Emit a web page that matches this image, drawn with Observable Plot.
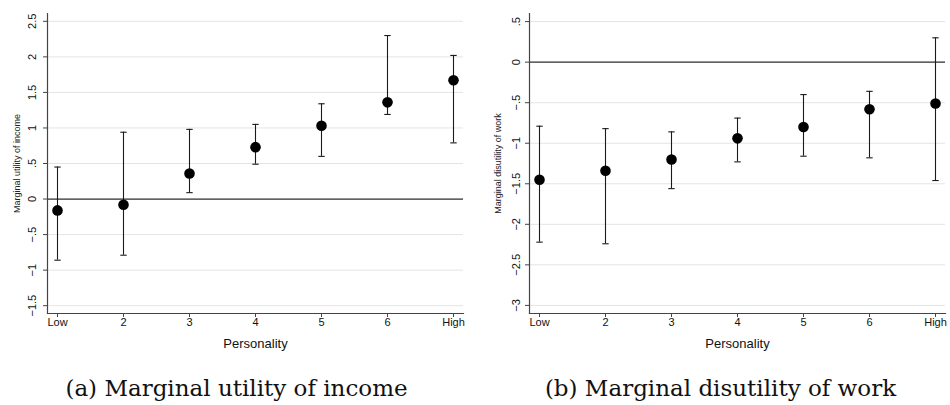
<!DOCTYPE html>
<html><head><meta charset="utf-8">
<script src="https://cdn.jsdelivr.net/npm/d3@7"></script>
<script src="https://cdn.jsdelivr.net/npm/@observablehq/plot@0.6"></script>
<style>
body{margin:0;background:#fff;width:950px;height:405px;position:relative;overflow:hidden}
.panel{position:absolute;top:0;width:475px;height:405px}
.cap{position:absolute;top:374px;left:0;width:100%;text-align:center;font-family:"DejaVu Serif",serif;font-size:23px;line-height:28px;color:#111;white-space:nowrap}
</style></head><body>
<div id="a" class="panel" style="left:0"></div>
<div id="b" class="panel" style="left:475px"></div>
<script>
const categories = ["Low", "2", "3", "4", "5", "6", "High"];
const incomeEst = [-0.16, -0.08, 0.36, 0.73, 1.03, 1.36, 1.67];
const incomeLo  = [-0.86, -0.79, 0.09, 0.49, 0.60, 1.19, 0.79];
const incomeHi  = [0.45, 0.94, 0.98, 1.05, 1.34, 2.30, 2.02];
const workEst = [-1.45, -1.34, -1.20, -0.94, -0.80, -0.58, -0.51];
const workLo  = [-2.22, -2.24, -1.56, -1.23, -1.16, -1.18, -1.46];
const workHi  = [-0.79, -0.82, -0.86, -0.69, -0.40, -0.36, 0.30];
const incomeTicks = [-1.5, -1, -0.5, 0, 0.5, 1, 1.5, 2, 2.5];
const workTicks = [-3, -2.5, -2, -1.5, -1, -0.5, 0, 0.5];
const incomeYLabel = "Marginal utility of income";
const workYLabel = "Marginal disutility of work";
const xLabel = "Personality";
const captionA = "(a) Marginal utility of income";
const captionB = "(b) Marginal disutility of work";

const fmt = v => v === 0 ? "0" : (v < 0 ? "\u2212" : "") + String(Math.abs(v)).replace(/^0\./, ".");
const capSymbol = {draw(ctx, size) { const r = Math.sqrt(size / Math.PI); ctx.moveTo(-r, 0); ctx.lineTo(r, 0); }};

function panel({est, lo, hi, yDomain, yTicks, yLabel, marginLeft, marginRight, tickDx, titleDx}) {
  const rows = categories.map((c, i) => ({c, est: est[i], lo: lo[i], hi: hi[i]}));
  const axisColor = "#444";
  return Plot.plot({
    width: 475, height: 352,
    marginLeft, marginRight, marginTop: 13, marginBottom: 39,
    style: {background: "#fff", fontFamily: "'Liberation Sans', Arial, sans-serif", color: "#000"},
    x: {type: "point", domain: categories, padding: 0.12, label: null},
    y: {domain: yDomain, label: null},
    marks: [
      Plot.ruleY(yTicks, {stroke: "#e4e4e4", strokeWidth: 1}),
      Plot.ruleY([0], {stroke: "#333", strokeWidth: 1.2}),
      Plot.ruleX(rows, {x: "c", y1: "lo", y2: "hi", stroke: "#1a1a1a", strokeWidth: 1.1}),
      Plot.dot(rows, {x: "c", y: "lo", symbol: capSymbol, r: 3.2, stroke: "#1a1a1a", strokeWidth: 1.1, fill: "none"}),
      Plot.dot(rows, {x: "c", y: "hi", symbol: capSymbol, r: 3.2, stroke: "#1a1a1a", strokeWidth: 1.1, fill: "none"}),
      Plot.dot(rows, {x: "c", y: "est", r: 5.3, fill: "#000", stroke: "none"}),
      Plot.frame({anchor: "left", stroke: axisColor, strokeWidth: 1.2}),
      Plot.frame({anchor: "bottom", stroke: axisColor, strokeWidth: 1.2}),
      Plot.axisY({ticks: yTicks, tickSize: 4, tickFormat: () => "", stroke: axisColor, label: null}),
      Plot.text(yTicks, {y: d => d, text: fmt, frameAnchor: "left", dx: -tickDx, rotate: -90, textAnchor: "middle", lineAnchor: "middle", fontSize: 11, fill: "#111"}),
      Plot.text([yLabel], {text: d => d, frameAnchor: "left", dx: -titleDx, rotate: -90, textAnchor: "middle", lineAnchor: "middle", fontSize: 9, fill: "#222"}),
      Plot.axisX({tickSize: 4, tickPadding: 1, fontSize: 11, stroke: axisColor, fill: "#111", label: null}),
      Plot.text([xLabel], {text: d => d, frameAnchor: "bottom", dy: 30, lineAnchor: "middle", fontSize: 13, fill: "#111"})
    ]
  });
}

function addCaption(el, text, shift) {
  const d = document.createElement("div");
  d.className = "cap";
  d.style.left = shift + "px";
  d.textContent = text;
  el.appendChild(d);
}

const a = document.getElementById("a");
a.appendChild(panel({est: incomeEst, lo: incomeLo, hi: incomeHi, yDomain: [-1.61, 2.61], yTicks: incomeTicks, yLabel: incomeYLabel, marginLeft: 47, marginRight: 12, tickDx: 15, titleDx: 30}));
addCaption(a, captionA, -1);
const b = document.getElementById("b");
b.appendChild(panel({est: workEst, lo: workLo, hi: workHi, yDomain: [-3.10, 0.60], yTicks: workTicks, yLabel: workYLabel, marginLeft: 54, marginRight: 5, tickDx: 13, titleDx: 31}));
addCaption(b, captionB, 8);
</script>
</body></html>
